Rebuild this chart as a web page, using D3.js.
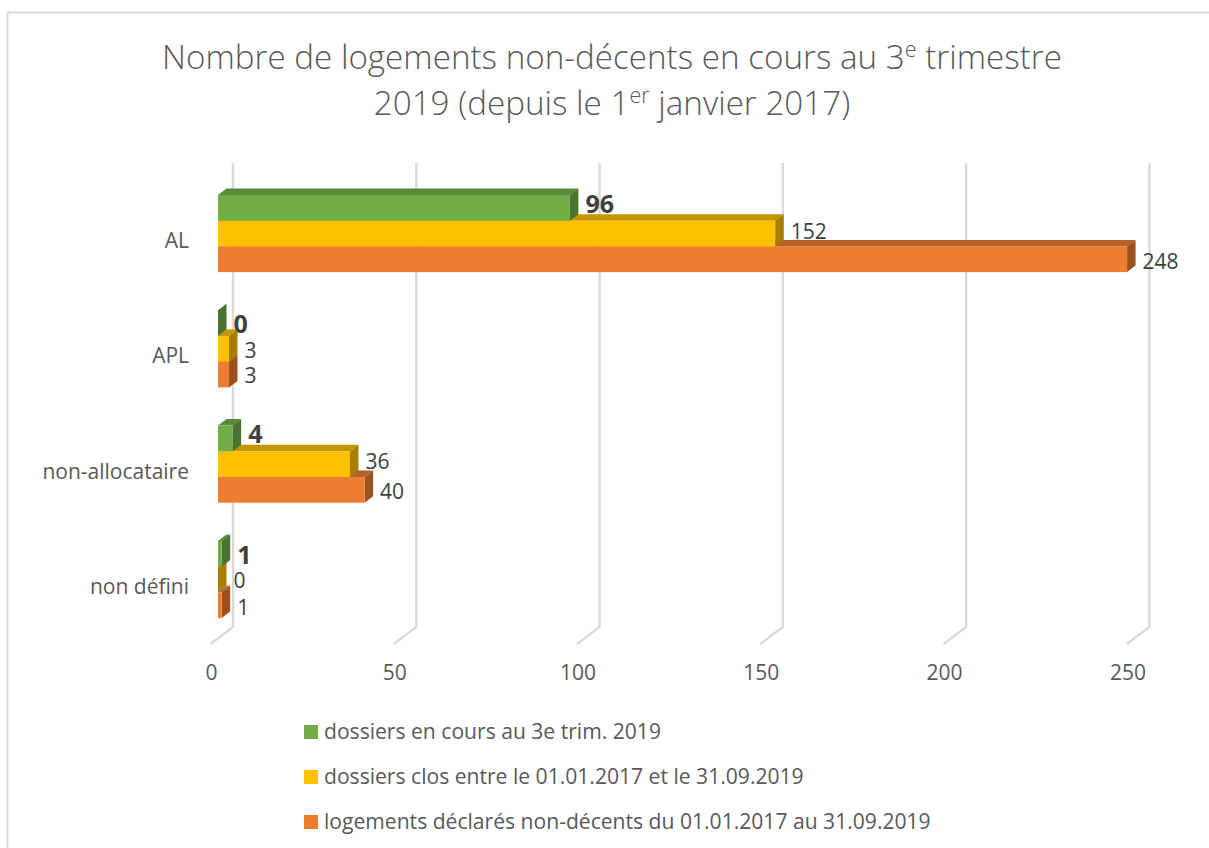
<!DOCTYPE html>
<html>
<head>
<meta charset="utf-8">
<script src="https://cdnjs.cloudflare.com/ajax/libs/d3/7.8.5/d3.min.js"></script>
<style>
  body { margin: 0; background: #fff; }
  svg { display: block; font-family: "Open Sans", sans-serif; }
</style>
</head>
<body>
<svg id="chart" width="1209" height="848"></svg>
<script>
const categories = ["AL", "APL", "non-allocataire", "non défini"];
const seriesNames = [
  "dossiers en cours au 3e trim. 2019",
  "dossiers clos entre le 01.01.2017 et le 31.09.2019",
  "logements déclarés non-décents du 01.01.2017 au 31.09.2019"
];
const enCours = [96, 0, 4, 1];
const clos = [152, 3, 36, 0];
const declares = [248, 3, 40, 1];
const tickValues = [0, 50, 100, 150, 200, 250];

const seriesValues = [enCours, clos, declares];
const frontColors = ["#70ad47", "#ffc000", "#ed7d31"];
const topColors = ["#5a8a39", "#c49500", "#b8602a"];
const sideColors = ["#4a732f", "#a67e00", "#9e5220"];

// nudges for the data labels, Excel does not center them on the bars
const labelDy = [[-4, 1, -4, 2], [-2, 2, -3, 1], [2, 1, 2, 2]];

const depthX = 8.5;
const depthY = 6.5;

let svg = d3.select("#chart");

let x = d3.scaleLinear().domain([0, 250]).range([218, 1134.4]);
let y = d3.scaleBand().domain(categories).range([175.9, 637.1]).paddingInner(0.331).paddingOuter(0.1655);
let ySeries = d3.scaleBand().domain(d3.range(3)).range([0, y.bandwidth()]);

// chart frame, only the top and left edges are inside the picture
svg.append("path")
  .attr("d", d3.line()([[7.5, 848], [7.5, 12.5], [1209, 12.5]]))
  .attr("fill", "none")
  .attr("stroke", "#d9d9d9")
  .attr("stroke-width", 2);

// title
let title = svg.append("text")
  .attr("text-anchor", "middle")
  .attr("fill", "#595959")
  .attr("font-size", 33.2)
  .attr("font-weight", 300);

let line1 = title.append("tspan").attr("x", 612).attr("y", 69);
line1.append("tspan").text("Nombre de logements non-décents en cours au 3");
line1.append("tspan").attr("dy", -12).attr("font-size", 21.5).text("e");
line1.append("tspan").attr("dy", 12).text(" trimestre");

let line2 = title.append("tspan").attr("x", 612).attr("y", 115);
line2.append("tspan").text("2019 (depuis le 1");
line2.append("tspan").attr("dy", -12).attr("font-size", 21.5).text("er");
line2.append("tspan").attr("dy", 12).text(" janvier 2017)");

// gridlines on the back wall and floor
tickValues.forEach((t) => {
  let back = x(t) + 15;
  svg.append("path")
    .attr("d", d3.line()([[back, 163], [back, 627], [back - 22.5, 644]]))
    .attr("fill", "none")
    .attr("stroke", "#d9d9d9")
    .attr("stroke-width", 2.4);
});

// axis
let axis = svg.append("g")
  .attr("transform", "translate(-7,665)")
  .call(d3.axisBottom(x).tickValues(tickValues).tickSize(0).tickPadding(0));
axis.select(".domain").remove();
axis.selectAll("text")
  .attr("font-family", "Open Sans")
  .attr("font-size", 21)
  .attr("fill", "#595959");

// category labels
svg.selectAll(".cat")
  .data(categories)
  .enter()
  .append("text")
  .attr("class", "cat")
  .attr("x", 189)
  .attr("y", (d) => y(d) + y.bandwidth() / 2 + 7)
  .attr("dy", "0.35em")
  .attr("text-anchor", "end")
  .attr("font-size", 21)
  .attr("fill", "#595959")
  .text((d) => d);

// bars, bottom one first so the upper bar covers the lower bar's top face
categories.forEach((cat) => {
  let i = categories.indexOf(cat);
  [2, 1, 0].forEach((s) => {
    let v = seriesValues[s][i];
    let x0 = x(0);
    let x1 = x(v);
    let y0 = y(cat) + ySeries(s);
    let y1 = y0 + ySeries.bandwidth();
    let g = svg.append("g").attr("class", "bar");
    if (v > 0) {
      g.append("path")
        .attr("d", d3.line()([[x0, y0], [x0 + depthX, y0 - depthY], [x1 + depthX, y0 - depthY], [x1, y0]]) + "Z")
        .attr("fill", topColors[s]);
    }
    g.append("path")
      .attr("d", d3.line()([[x1, y0], [x1 + depthX, y0 - depthY], [x1 + depthX, y1 - depthY], [x1, y1]]) + "Z")
      .attr("fill", sideColors[s]);
    if (v > 0) {
      g.append("rect")
        .attr("x", x0)
        .attr("y", y0)
        .attr("width", x1 - x0)
        .attr("height", y1 - y0)
        .attr("fill", frontColors[s]);
    }
  });
});

// data labels go on top of everything
categories.forEach((cat, i) => {
  seriesValues.forEach((values, s) => {
    svg.append("text")
      .attr("x", x(values[i]) + 15.5)
      .attr("y", y(cat) + ySeries(s) + ySeries.bandwidth() / 2 + labelDy[s][i])
      .attr("dy", "0.35em")
      .attr("font-size", s === 0 ? 25 : 21)
      .attr("font-weight", s === 0 ? 700 : 400)
      .attr("fill", "#404040")
      .text(values[i]);
  });
});

// legend
let legendY = d3.scalePoint().domain(seriesNames).range([732, 822]);
let legend = svg.selectAll(".legend")
  .data(seriesNames)
  .enter()
  .append("g")
  .attr("class", "legend")
  .attr("transform", (d) => "translate(304," + legendY(d) + ")");
legend.append("rect")
  .attr("y", -7)
  .attr("width", 14)
  .attr("height", 14)
  .attr("fill", (d, i) => frontColors[i]);
legend.append("text")
  .attr("x", 20)
  .attr("dy", "0.35em")
  .attr("font-size", 21.1)
  .attr("fill", "#595959")
  .text((d) => d);
</script>
</body>
</html>
